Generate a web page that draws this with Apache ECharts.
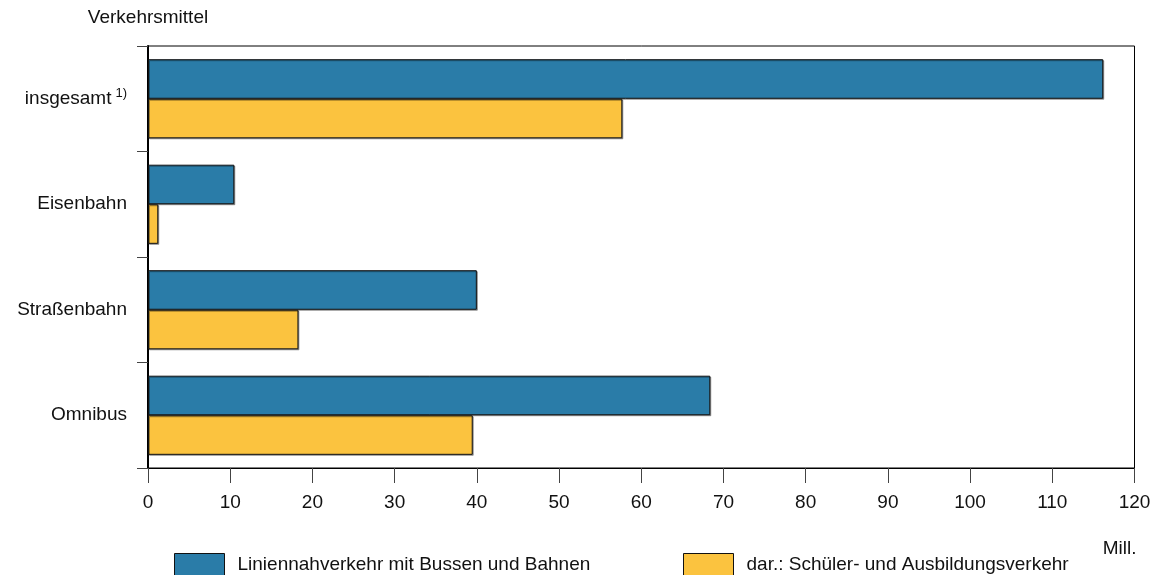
<!DOCTYPE html>
<html><head><meta charset="utf-8">
<script src="https://cdn.jsdelivr.net/npm/echarts@6/dist/echarts.min.js"></script>
<style>html,body{margin:0;padding:0;background:#fff}#c{width:1154px;height:575px}</style>
</head><body><div id="c"></div>
<script>
const categories = ['insgesamt', 'Eisenbahn', 'Straßenbahn', 'Omnibus'];
const seriesNames = ['Liniennahverkehr mit Bussen und Bahnen', 'dar.: Schüler- und Ausbildungsverkehr'];
const linienValues = [116.2, 10.5, 40.0, 68.4];
const schuelerValues = [57.7, 1.25, 18.3, 39.5];
const xTicks = [0, 10, 20, 30, 40, 50, 60, 70, 80, 90, 100, 110, 120];

const FONT = '"Liberation Sans", Arial, Helvetica, sans-serif';
const FS = 19;
const chart = echarts.init(document.getElementById('c'));
const barStyle = (c) => ({color: c, borderColor: '#111', borderWidth: 1, shadowColor: 'rgba(0,0,0,0.35)', shadowOffsetX: 1, shadowOffsetY: 1, shadowBlur: 0});
const legendCommon = {
  top: 553, itemWidth: 50, itemHeight: 22, icon: 'rect', orient: 'horizontal', padding: 0,
  textStyle: {fontSize: FS, color: '#111', fontFamily: FONT, padding: [0, 0, 0, 8]},
  itemStyle: {borderColor: '#111', borderWidth: 1}
};
chart.setOption({
  animation: false,
  textStyle: {fontFamily: FONT},
  grid: {left: 148, right: 19.5, top: 46, bottom: 107, show: true, borderColor: '#000', borderWidth: 1, backgroundColor: 'transparent'},
  legend: [
    Object.assign({}, legendCommon, {left: 174, data: [seriesNames[0]]}),
    Object.assign({}, legendCommon, {left: 683, data: [seriesNames[1]]})
  ],
  xAxis: {
    type: 'value', min: xTicks[0], max: xTicks[xTicks.length - 1], interval: 10,
    axisLine: {show: true, lineStyle: {color: '#000', width: 1}},
    axisTick: {show: true, length: 15, lineStyle: {color: '#444'}},
    axisLabel: {fontSize: FS, color: '#111', margin: 25, fontFamily: FONT},
    splitLine: {show: false},
    name: 'Mill.', nameLocation: 'end', nameGap: 0,
    nameTextStyle: {fontSize: FS, color: '#111', fontFamily: FONT, align: 'right', verticalAlign: 'top', padding: [71, -2, 0, 0]}
  },
  yAxis: {
    type: 'category', data: categories, inverse: true,
    axisLine: {show: true, lineStyle: {color: '#000', width: 2}},
    axisTick: {show: true, length: 11, lineStyle: {color: '#444'}},
    axisLabel: {
      fontSize: FS, color: '#111', margin: 21, fontFamily: FONT,
      formatter: (v) => v === 'insgesamt' ? v + '{sup|1)}' : v,
      rich: {sup: {fontSize: 13, padding: [0, 0, 10, 4], fontFamily: FONT, color: '#111'}}
    },
    name: 'Verkehrsmittel', nameLocation: 'start', nameGap: 19,
    nameTextStyle: {fontSize: FS, color: '#111', fontFamily: FONT, align: 'center', verticalAlign: 'bottom'}
  },
  series: [
    {name: seriesNames[0], type: 'bar', data: linienValues, barGap: '0%', barCategoryGap: '25%', itemStyle: barStyle('#2a7ca8')},
    {name: seriesNames[1], type: 'bar', data: schuelerValues, barGap: '0%', barCategoryGap: '25%', itemStyle: barStyle('#fbc33f')}
  ]
});
</script></body></html>
